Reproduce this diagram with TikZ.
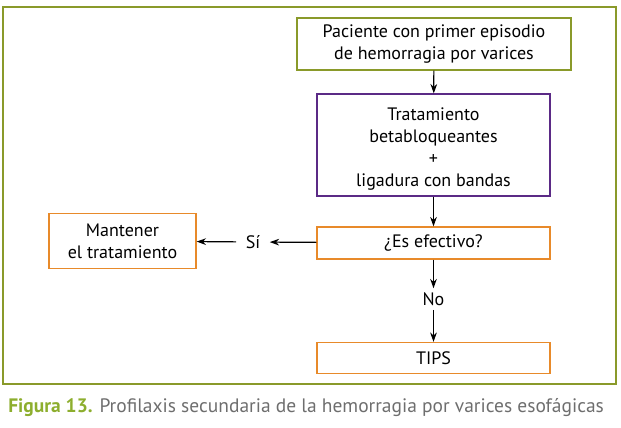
\documentclass[tikz,border=0pt]{standalone}
\usepackage{fontspec}
\setmainfont{PT Sans}
\usetikzlibrary{arrows.meta,positioning}
\definecolor{olv}{HTML}{8A9A2A}
\definecolor{pur}{HTML}{5B2A86}
\definecolor{org}{HTML}{E88A2A}
\definecolor{capg}{HTML}{8DAE2E}
\definecolor{gry}{HTML}{6E6E6E}

\begin{document}
\begin{tikzpicture}[x=0.75pt,y=-0.75pt,
        box/.style={draw,line width=1pt,align=center,inner sep=0pt,font=\fontsize{13.5}{16.5}\selectfont},
        lbl/.style={font=\fontsize{13.5}{16.5}\selectfont,inner xsep=7pt,inner ysep=3pt},
        arr/.style={-{Stealth[length=7pt,width=5pt]},line width=0.9pt}
    ]
    \useasboundingbox (0,0) rectangle (621,428);
    \draw[olv,line width=1pt] (3,7) rectangle (616,384);
    \node[box,olv,text=black,minimum width=274*0.75pt,minimum height=52*0.75pt] (pac) at (434,44)
        {Paciente con primer episodio\\de hemorragia por varices};
    \node[box,pur,minimum width=233*0.75pt,minimum height=102*0.75pt] (trat) at (433.5,145) {};
    \node[align=center,inner sep=0pt,font=\fontsize{13.5}{16.5}\selectfont] (tratTxt) at (433.5,149)
        {Tratamiento\\betabloqueantes\\+\\ligadura con bandas};
    \node[box,org,text=black,minimum width=233*0.75pt,minimum height=32*0.75pt] (efec) at (433.5,243)
        {¿Es efectivo?};
    \node[box,org,text=black,minimum width=147*0.75pt,minimum height=55*0.75pt] (mant) at (122.5,241)
        {Mantener\\el tratamiento};
    \node[box,org,text=black,minimum width=233*0.75pt,minimum height=31*0.75pt] (tips) at (433.5,358)
        {TIPS};
    \node[lbl] (si) at (253,242) {Sí};
    \node[lbl] (no) at (433.5,299) {No};
    \draw[arr] (pac) -- (trat);
    \draw[arr] (trat) -- (efec);
    \draw[arr] (efec) -- (no);
    \draw[arr] (no) -- (tips);
    \draw[arr] (efec) -- (si);
    \draw[arr] (si) -- (mant);
    \node[anchor=west,inner sep=0pt,font=\fontsize{14.6}{17}\selectfont] (cap) at (8,408)
        {\textcolor{capg}{\textbf{Figura 13.}} \textcolor{gry}{Profilaxis secundaria de la hemorragia por varices esofágicas}};
\end{tikzpicture}
\end{document}
